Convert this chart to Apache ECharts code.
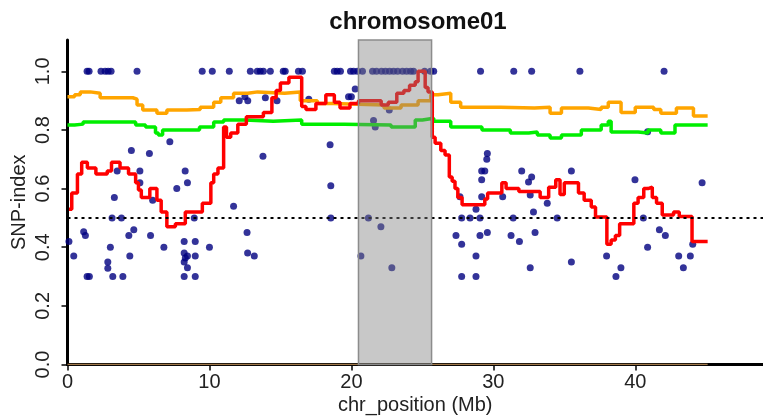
<!DOCTYPE html>
<html>
<head>
<meta charset="utf-8">
<script src="https://cdn.jsdelivr.net/npm/echarts@6/dist/echarts.min.js"></script>
<style>html,body{margin:0;padding:0;background:#fff}#c{width:763px;height:417px}</style>
</head>
<body>
<div id="c"></div>
<script>
// ---- data ----
const titleText = 'chromosome01';
const xTicks = [0, 10, 20, 30, 40];
const yTicks = [0, 0.2, 0.4, 0.6, 0.8, 1.0];
const xRange = [0, 49];
const yRange = [0, 1.107];
const threshold = 0.5;
const region = [20.5, 25.65];

// SNP-index points
const snpTop = [1.38,1.52,2.36,2.65,2.86,3.07,4.9,9.49,10.2,11.4,12.88,13.37,13.58,13.8,14.29,15.2,15.34,16.27,16.55,18.8,19.0,19.23,19.94,20.15,20.43,20.78,21.49,21.77,22.12,22.4,22.69,22.97,23.26,23.6,23.89,24.17,24.38,25.16,25.58,25.8,29.1,31.44,32.7,36.1,42.03];
const snpOther = [
[0.1,0.42],[0.44,0.37],[1.14,0.453],[1.26,0.44],[1.38,0.30],[1.54,0.30],
[2.84,0.35],[2.84,0.328],[3.02,0.40],[3.14,0.50],[3.19,0.30],[3.3,0.57],[3.5,0.66],[3.8,0.50],[3.9,0.30],
[4.32,0.44],[4.39,0.37],[4.5,0.73],[4.67,0.46],[5.1,0.66],[5.1,0.62],[5.77,0.72],[5.85,0.44],[6.0,0.56],[6.79,0.40],
[7.21,0.76],[7.7,0.60],[8.22,0.42],[8.22,0.38],[8.29,0.66],[8.45,0.62],[8.45,0.37],[8.3,0.363],[8.22,0.35],[8.45,0.33],[8.22,0.30],
[8.93,0.50],[9.0,0.42],[9.0,0.37],[9.0,0.30],[10.0,0.40],[11.7,0.54],[12.1,0.90],[12.5,0.913],[12.7,0.90],[12.65,0.45],[12.69,0.38],[13.16,0.37],
[13.77,0.71],[13.94,0.91],[14.76,0.90],[17.0,0.905],[18.5,0.75],[18.55,0.61],[18.55,0.50],[19.8,0.913],[20.0,0.913],[20.27,0.94],
[20.67,0.37],[21.2,0.50],[21.56,0.832],[21.68,0.81],[22.08,0.47],[22.67,0.868],[22.85,0.33],
[27.37,0.44],[27.65,0.572],[27.77,0.50],[27.77,0.41],[27.77,0.30],[28.36,0.50],[28.78,0.53],[28.78,0.37],[28.78,0.30],[29.06,0.50],[29.06,0.44],[29.18,0.572],
[29.18,0.66],[29.4,0.66],[29.18,0.63],[29.58,0.72],[29.54,0.70],[29.58,0.45],
[30.66,0.572],[31.25,0.44],[31.4,0.50],[31.84,0.42],[32.0,0.66],[32.48,0.623],[32.7,0.64],[32.6,0.578],[32.83,0.52],[32.94,0.45],[32.6,0.33],
[33.8,0.55],[34.5,0.50],[35.5,0.66],[35.5,0.35],[37.98,0.37],[38.64,0.30],[38.99,0.33],[39.98,0.63],[40.57,0.50],[40.87,0.40],[40.87,0.794],
[41.7,0.46],[42.12,0.44],[43.06,0.37],[43.39,0.33],[43.88,0.37],[44.05,0.41],[44.71,0.62]
];

// sliding-window SNP-index (red), 99% (orange) and 95% (green) thresholds, lower bound (tan)
const snpMean = [
[0.1,0.53],[0.3,0.585],[0.7,0.65],[1.0,0.69],[1.4,0.67],[2.0,0.65],[2.8,0.66],[3.1,0.69],[3.7,0.67],[4.3,0.65],[4.8,0.62],[5.0,0.595],[5.2,0.57],[5.8,0.60],[6.3,0.56],[6.6,0.52],[7.0,0.47],[7.6,0.48],[8.1,0.48],[8.3,0.52],[9.5,0.55],[10.1,0.62],[10.3,0.65],[10.6,0.67],[11.0,0.81],[11.2,0.775],[11.5,0.79],[12.0,0.82],[12.6,0.845],[13.8,0.86],[14.4,0.91],[14.7,0.935],[15.0,0.96],[15.6,0.98],[16.5,0.88],[16.8,0.87],[17.5,0.89],[18.2,0.92],[18.8,0.895],[19.2,0.875],[19.9,0.89],[20.5,0.90],[22.1,0.885],[22.6,0.895],[23.2,0.925],[23.7,0.935],[24.1,0.953],[24.5,0.965],[24.7,1.0],[25.2,0.945],[25.4,0.93],[25.7,0.775],[25.9,0.755],[26.3,0.73],[26.6,0.715],[26.9,0.64],[27.1,0.625],[27.3,0.60],[27.5,0.57],[27.8,0.545],[29.4,0.565],[29.6,0.585],[30.6,0.62],[30.9,0.60],[31.8,0.59],[33.3,0.57],[33.9,0.605],[34.4,0.63],[34.7,0.58],[35.0,0.62],[36.0,0.585],[36.4,0.56],[36.9,0.537],[37.2,0.503],[38.0,0.41],[38.3,0.425],[38.6,0.44],[38.9,0.48],[39.9,0.55],[40.2,0.57],[40.6,0.60],[40.9,0.605],[41.2,0.57],[41.5,0.55],[41.9,0.51],[42.7,0.52],[43.1,0.505],[44.0,0.42],[45.1,0.42]
];
const ci99 = [
[0.0,0.913],[0.5,0.92],[0.9,0.93],[1.6,0.925],[2.3,0.91],[4.6,0.905],[4.9,0.885],[5.3,0.868],[6.3,0.857],[7.0,0.868],[8.4,0.87],[9.35,0.878],[10.3,0.895],[10.8,0.91],[11.7,0.925],[12.7,0.93],[13.4,0.925],[15.3,0.93],[16.4,0.90],[17.6,0.89],[18.7,0.885],[22.3,0.875],[23.5,0.885],[24.7,0.90],[25.6,0.92],[26.1,0.925],[27.0,0.895],[27.7,0.878],[30.5,0.875],[32.9,0.878],[34.0,0.857],[34.8,0.875],[36.7,0.87],[37.6,0.878],[38.1,0.895],[39.0,0.86],[40.0,0.878],[41.3,0.87],[41.8,0.857],[42.9,0.875],[44.1,0.848],[45.1,0.848]
];
const ci95 = [
[0.0,0.817],[0.5,0.82],[1.1,0.827],[4.8,0.817],[5.5,0.81],[6.2,0.79],[6.4,0.783],[6.7,0.80],[8.5,0.80],[9.3,0.81],[10.3,0.827],[11.0,0.834],[12.5,0.83],[14.5,0.834],[16.5,0.82],[19.5,0.817],[22.8,0.81],[24.5,0.834],[25.0,0.84],[25.8,0.83],[27.0,0.81],[29.2,0.80],[31.2,0.79],[32.5,0.793],[33.1,0.783],[34.0,0.773],[34.8,0.783],[36.2,0.80],[37.6,0.817],[38.1,0.83],[38.3,0.793],[40.2,0.79],[40.9,0.80],[41.8,0.79],[42.8,0.817],[45.1,0.817]
];
const lowerBound = [[0.0,0.0],[45.1,0.0]];

// ---- chart ----
const font = 'Liberation Sans, Arial, Helvetica, sans-serif';
const scatterData = snpTop.map(x => [x, 1.0]).concat(snpOther);
const chart = echarts.init(document.getElementById('c'), null, {renderer: 'canvas'});
const stepLine = (name, data, color, z) => ({
  name, type: 'line', data, step: 'end', symbol: 'none', z,
  lineStyle: {color, width: 3.5}, animation: false, silent: true
});
chart.setOption({
  animation: false,
  backgroundColor: '#fff',
  title: {
    text: titleText, left: 413, top: 5, textAlign: 'center',
    textStyle: {fontFamily: font, fontSize: 24, fontWeight: 'bold', color: '#111'}
  },
  grid: {left: 67.5, right: 0, top: 40, bottom: 52.5, containLabel: false, outerBoundsMode: 'none'},
  xAxis: {
    type: 'value', min: xRange[0], max: xRange[1],
    name: 'chr_position (Mb)', nameLocation: 'middle', nameGap: 31, nameMoveOverlap: false,
    nameTextStyle: {fontFamily: font, fontSize: 20, color: '#222'},
    axisLine: {onZero: false, lineStyle: {color: '#000', width: 3}},
    axisTick: {customValues: xTicks, length: 6, lineStyle: {color: '#000', width: 1.5}},
    axisLabel: {customValues: xTicks, margin: 8, fontFamily: font, fontSize: 20, color: '#222'},
    splitLine: {show: false}
  },
  yAxis: {
    type: 'value', min: yRange[0], max: yRange[1],
    name: 'SNP-index', nameLocation: 'middle', nameGap: 38, nameMoveOverlap: false,
    nameTextStyle: {fontFamily: font, fontSize: 20, color: '#222'},
    axisLine: {onZero: false, lineStyle: {color: '#000', width: 3}},
    axisTick: {customValues: yTicks, length: 6, lineStyle: {color: '#000', width: 1.5}},
    axisLabel: {customValues: yTicks, rotate: 90, margin: 14, fontFamily: font, fontSize: 20, color: '#222',
      formatter: v => v.toFixed(1)},
    splitLine: {show: false}
  },
  series: [
    {
      name: 'SNP', type: 'scatter', data: scatterData, symbolSize: 7, z: 2,
      itemStyle: {color: '#000080'}, silent: true
    },
    stepLine('95%', ci95, '#00ee00', 3),
    stepLine('99%', ci99, '#ffa500', 4),
    stepLine('SNP-index', snpMean, '#ff0000', 5),
    {
      name: 'lower', type: 'line', data: lowerBound, symbol: 'none', z: 6,
      lineStyle: {color: '#a0784a', width: 1.5}, silent: true,
      markLine: {
        silent: true, symbol: 'none', z: 6,
        label: {show: false},
        lineStyle: {color: '#000', width: 2, type: [3, 4]},
        data: [{yAxis: threshold}]
      }
    },
    {
      name: 'region', type: 'line', data: [], z: 20, silent: true,
      markArea: {
        silent: true, z: 20,
        itemStyle: {color: 'rgba(128,128,128,0.43)', borderColor: '#8c8c8c', borderWidth: 1.5},
        data: [[{xAxis: region[0], yAxis: yRange[1]}, {xAxis: region[1], yAxis: yRange[0]}]]
      }
    }
  ]
});
</script>
</body>
</html>
